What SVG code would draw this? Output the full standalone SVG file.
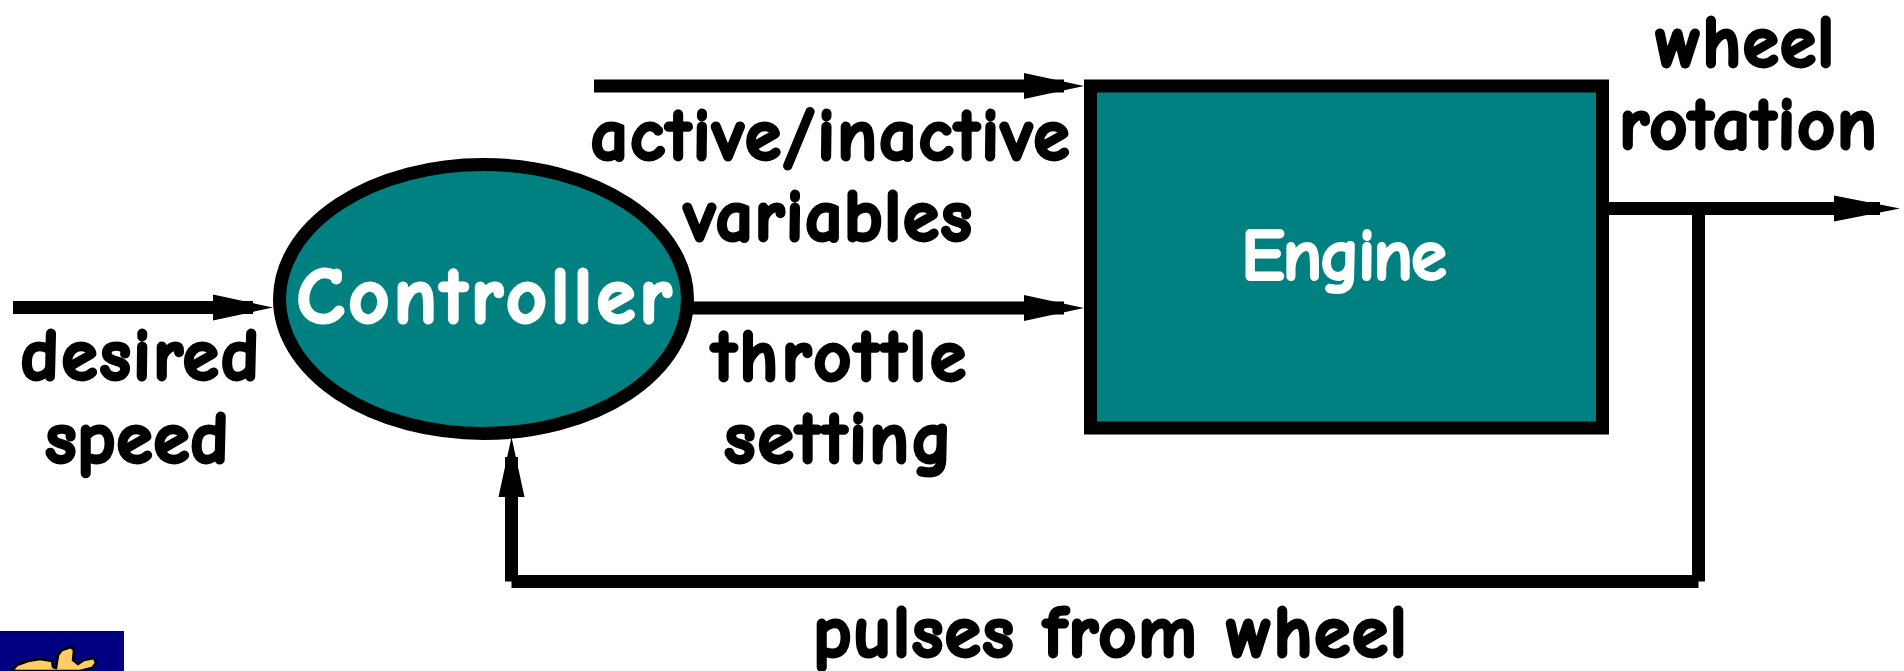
<svg xmlns="http://www.w3.org/2000/svg" width="1904" height="671" viewBox="0 0 1904 671">
<defs>
<marker id="a" markerUnits="userSpaceOnUse" markerWidth="62" markerHeight="30" refX="40" refY="14" orient="auto" overflow="visible"><path d="M0 1L60 14L0 27Z" fill="#000"/></marker>
<marker id="b" markerUnits="userSpaceOnUse" markerWidth="68" markerHeight="30" refX="46" refY="14" orient="auto" overflow="visible"><path d="M0 1L66 14L0 27Z" fill="#000"/></marker>
</defs>
<style>.l{font-family:"Comic Neue","DejaVu Sans",sans-serif;font-weight:700;font-size:74px;text-anchor:middle;fill:#000;stroke:#000;stroke-width:3px;stroke-linejoin:round}.w{fill:#fff;stroke:#fff}.c{fill:none;stroke:#000;stroke-width:13}</style>
<rect width="1904" height="671" fill="#fff"/>
<g id="controller"><ellipse cx="483.5" cy="299" rx="204" ry="134.5" fill="#008080" stroke="#000" stroke-width="13"/><text class="l w" x="484" y="323" style="font-size:80px" textLength="375" lengthAdjust="spacing">Controller</text></g>
<g id="engine"><rect x="1090.5" y="86" width="512" height="342" fill="#008080" stroke="#000" stroke-width="13"/><text class="l w" x="1344" y="280" style="stroke-width:2px" textLength="206" lengthAdjust="spacing">Engine</text></g>
<g id="connectors">
<path class="c" d="M13 307.500H253" marker-end="url(#a)"/>
<path class="c" d="M594 86H1064" marker-end="url(#a)"/>
<path class="c" d="M690 308H1064" marker-end="url(#a)"/>
<path class="c" d="M1609 208.500H1880" marker-end="url(#b)"/>
<path class="c" d="M1698.500 208.500V581.500"/>
<path class="c" d="M1698.500 581.500H511.500"/>
<path class="c" d="M511.500 581.500V457" marker-end="url(#a)"/>
</g>
<g id="labels">
<text class="l" x="140" y="380" textLength="239">desired</text><text class="l" x="137" y="463" textLength="184">speed</text>
<text class="l" x="830" y="160" textLength="479">active/inactive</text><text class="l" x="828" y="241" textLength="288">variables</text>
<text class="l" x="839" y="381" textLength="254">throttle</text><text class="l" x="838" y="463" textLength="228">setting</text>
<text class="l" x="1745" y="67" textLength="179">wheel</text><text class="l" x="1748" y="149" textLength="258">rotation</text>
<text class="l" x="1110" y="657" textLength="594">pulses from wheel</text>
</g>
<g id="logo"><rect x="0" y="631" width="124" height="40" fill="#000080"/>
<path d="M12 671L17 665L28 661L40 659L52 661L53 667L56 668L58 655L62 650L71 647L74 650L73 660L78 664L84 660L94 658L96 663L92 668L80 671Z" fill="#ffcc66" stroke="#000" stroke-width="2.500" stroke-linejoin="round"/></g>
</svg>
